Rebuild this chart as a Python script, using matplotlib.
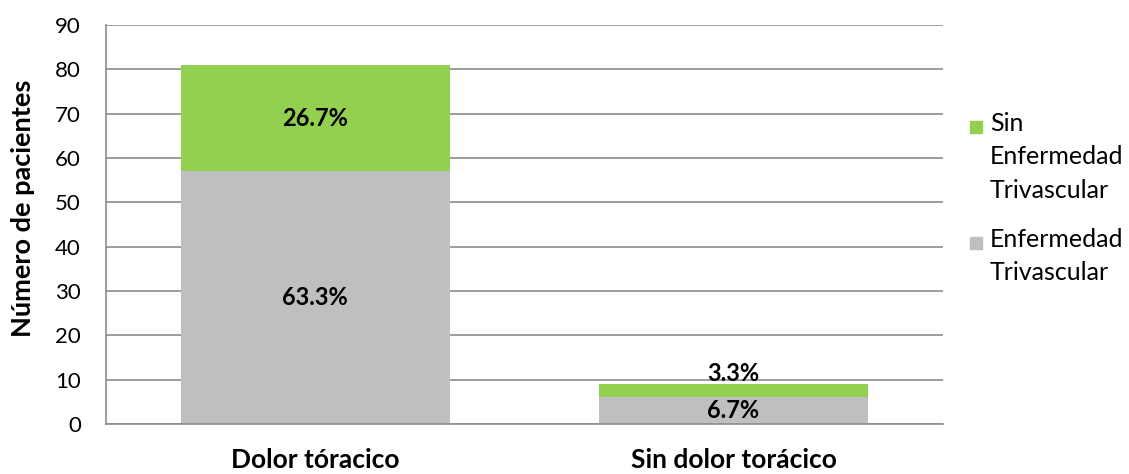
import matplotlib.pyplot as plt
from matplotlib.patches import Rectangle

plt.rcParams['font.family'] = ['Lato', 'DejaVu Sans']

categories = ['Dolor tóracico', 'Sin dolor torácico']
con_enf = [57, 6]      # Enfermedad Trivascular
sin_enf = [24, 3]      # Sin Enfermedad Trivascular
lab_con = ['63.3%', '6.7%']
lab_sin = ['26.7%', '3.3%']
lab_sin_offset = [0, 4]

green = '#92D050'
gray = '#BFBFBF'

fig = plt.figure(figsize=(11.29, 4.74), dpi=100)
ax = fig.add_axes([0.0939, 0.1055, 0.7411, 0.8417])

x = range(len(categories))
ax.bar(x, con_enf, width=0.643, color=gray, zorder=2)
ax.bar(x, sin_enf, width=0.643, bottom=con_enf, color=green, zorder=2)

for i in x:
    ax.text(i, con_enf[i] / 2, lab_con[i], ha='center', va='center',
            fontsize=17, fontweight='bold', zorder=3)
    ax.text(i, con_enf[i] + sin_enf[i] / 2 + lab_sin_offset[i], lab_sin[i],
            ha='center', va='center', fontsize=17, fontweight='bold', zorder=3)

ax.set_xlim(-0.5, 1.5)
ax.set_ylim(0, 90)
ax.set_yticks(range(0, 91, 10))
ax.set_xticks(list(x))
ax.set_xticklabels(categories, fontsize=19, fontweight='bold')
ax.tick_params(axis='y', length=0, labelsize=16, pad=18)
ax.tick_params(axis='x', length=0, pad=17)
ax.yaxis.grid(True, color='#8c8c8c', linewidth=1.2, zorder=0)
ax.set_axisbelow(True)
for s in ['top', 'right']:
    ax.spines[s].set_visible(False)
ax.spines['left'].set_color('#8c8c8c')
ax.spines['bottom'].set_color('#8c8c8c')
ax.spines['left'].set_linewidth(1.2)
ax.spines['bottom'].set_linewidth(1.2)
ax.set_ylabel('Número de pacientes', fontsize=19.5, fontweight='bold')
ax.yaxis.set_label_coords(-0.085, 0.54)

# legend drawn by hand so the square sits on the first line
legend_items = [(green, 'Sin\nEnfermedad\nTrivascular', 127),
                (gray, 'Enfermedad\nTrivascular', 243)]
W, H = 1129, 474
for col, txt, ypix in legend_items:
    fig.patches.append(Rectangle((970 / W, 1 - (ypix + 6) / H), 12 / W, 12 / H,
                                 transform=fig.transFigure, color=col))
    fig.text(990 / W, 1 - (ypix - 15) / H, txt, fontsize=18, va='top', ha='left',
             linespacing=1.55)

fig.savefig('out.png', dpi=100)
